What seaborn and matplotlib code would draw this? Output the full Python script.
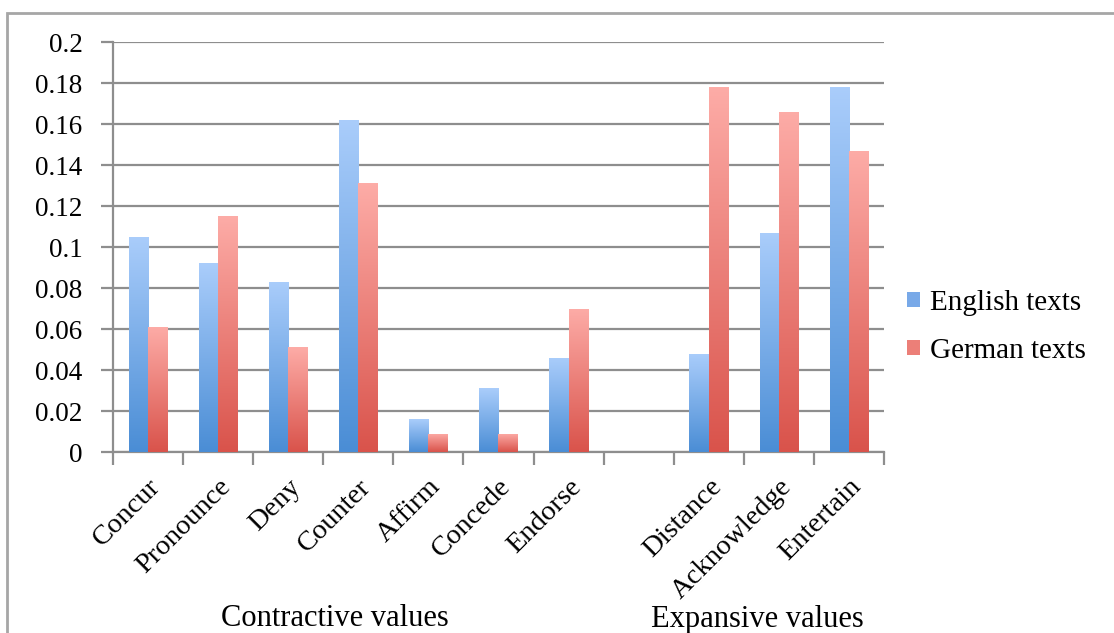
import numpy as np
import pandas as pd
import seaborn as sns
import matplotlib.pyplot as plt
from matplotlib.patches import Rectangle
from matplotlib.ticker import FuncFormatter, FixedLocator
from matplotlib.colors import LinearSegmentedColormap

# values
categories = ["Concur", "Pronounce", "Deny", "Counter", "Affirm", "Concede", "Endorse",
              "Distance", "Acknowledge", "Entertain"]
order = categories[:7] + [" "] + categories[7:]   # empty slot between the two groups
english = [0.105, 0.092, 0.083, 0.162, 0.016, 0.031, 0.046, 0.048, 0.107, 0.178]
german = [0.061, 0.115, 0.051, 0.131, 0.009, 0.009, 0.070, 0.178, 0.166, 0.147]
series = ["English texts", "German texts"]

df = pd.DataFrame({
    "Category": categories * 2,
    "Value": english + german,
    "Texts": [series[0]] * len(categories) + [series[1]] * len(categories),
})

sns.set_style("white")
plt.rcParams["font.family"] = ["Liberation Serif", "DejaVu Serif"]
plt.rcParams["text.color"] = "black"
plt.rcParams["xtick.labelcolor"] = "black"
plt.rcParams["ytick.labelcolor"] = "black"

blue_bot, blue_top = "#4a8dd5", "#aacdfb"
red_bot, red_top = "#d9534b", "#fdaca7"
palette = {series[0]: "#78a9e8", series[1]: "#ec7f78"}

fig = plt.figure(figsize=(11.14, 6.33), dpi=100)
ax = fig.add_axes([0.1014, 0.2859, 0.6921, 0.6477])

sns.barplot(data=df, x="Category", y="Value", hue="Texts", order=order,
            hue_order=series, palette=palette, width=0.55, ax=ax,
            saturation=1, linewidth=0, legend=True)

# gradient fill clipped to each bar
cmaps = {
    series[0]: LinearSegmentedColormap.from_list("b", [blue_bot, blue_top]),
    series[1]: LinearSegmentedColormap.from_list("r", [red_bot, red_top]),
}
grad = np.linspace(0, 1, 256).reshape(-1, 1)
for cont, name in zip(ax.containers, series):
    for bar in cont:
        x, w, h = bar.get_x(), bar.get_width(), bar.get_height()
        if not np.isfinite(h) or h <= 0:
            continue
        im = ax.imshow(grad, cmap=cmaps[name], origin="lower", aspect="auto",
                       extent=[x, x + w, 0, h], zorder=3)
        im.set_clip_path(bar)
        bar.set_zorder(3)

ax.set_xlim(-0.5, len(order) - 0.5)
ax.set_ylim(0, 0.2)
ax.set_yticks(np.arange(0, 0.2001, 0.02))
ax.yaxis.set_major_formatter(FuncFormatter(lambda v, p: f"{v:.2f}".rstrip("0").rstrip(".") if v else "0"))
ax.yaxis.grid(True, color="#8e8e8e", linewidth=1.6, zorder=0)
ax.set_axisbelow(True)

gray = "#8e8e8e"
for s in ["top", "right"]:
    ax.spines[s].set_visible(False)
for s in ["left", "bottom"]:
    ax.spines[s].set_color(gray)
    ax.spines[s].set_linewidth(1.6)

ax.tick_params(axis="y", which="major", left=True, length=9, width=1.6, color=gray,
               pad=13, labelsize=19.5, labelcolor="black")
ax.xaxis.set_minor_locator(FixedLocator(np.arange(-0.5, len(order), 1)))
ax.tick_params(axis="x", which="minor", bottom=True, length=9, width=1.6, color=gray)
ax.tick_params(axis="x", which="major", bottom=False, length=0, pad=16, labelsize=20.5,
               labelcolor="black")
ax.set_xticks(range(len(order)))
ax.set_xticklabels(order, rotation=45, ha="right", rotation_mode="anchor")
ax.set_xlabel("")
ax.set_ylabel("")

handles, labels = ax.get_legend_handles_labels()
leg = ax.legend(handles, labels, loc="center left", bbox_to_anchor=(1.03, 0.305),
                frameon=False, fontsize=21, handlelength=0.45, handleheight=0.45,
                handletextpad=0.35, labelspacing=0.75, borderpad=0, borderaxespad=0)
for t in leg.get_texts():
    t.set_color("black")

fig.text(335 / 1114, 1 - 619 / 633, "Contractive values", ha="center", va="center",
         fontsize=22, color="black")
fig.text(757 / 1114, 1 - 619 / 633, "Expansive values", ha="center", va="center",
         fontsize=22, color="black")

# outer chart frame, cropped at the right and bottom like the screenshot
fig.patches.append(Rectangle((7 / 1114, -0.1), 1.2, 1 - 13 / 633 + 0.1,
                             transform=fig.transFigure, fill=False,
                             edgecolor="#a6a6a6", linewidth=2, clip_on=False))

plt.savefig("out.png", dpi=100)
